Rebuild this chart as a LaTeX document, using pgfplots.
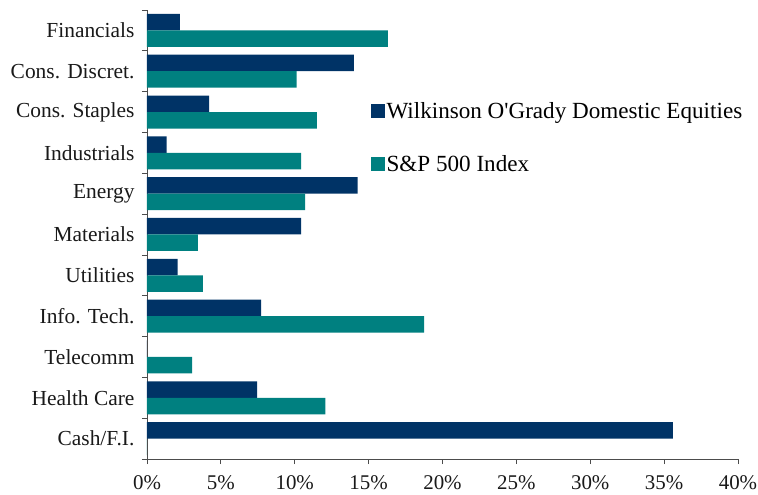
\documentclass[border=0pt]{standalone}
\usepackage{pgfplots}
\pgfplotsset{compat=1.18}
\usepackage{fontspec}
\setmainfont{Liberation Serif}
\definecolor{navyc}{RGB}{0,51,102}
\definecolor{tealc}{RGB}{0,128,128}
\begin{document}
\begin{tikzpicture}
\path[use as bounding box] (-147bp,-36bp) rectangle (611bp,459bp);
\begin{axis}[
  scale only axis, width=591bp, height=449bp,
  xmin=0, xmax=40, ymin=-0.5, ymax=10.5,
  axis lines=left,
  axis line style={-, black!70, line width=0.8bp},
  tick align=outside, major tick length=5bp,
  tick style={black!70, line width=0.8bp},
  xtick={0,5,...,40},
  xticklabel={\pgfmathprintnumber{\tick}\%},
  /pgf/number format/assume math mode=true,
  ytick={-0.5,0.5,...,10.5},
  yticklabels={},
  extra y ticks={0,1,...,10},
  extra y tick labels={Cash/F.I., Health Care, Telecomm, Info. Tech., Utilities, Materials, Energy, Industrials, Cons. Staples, Cons. Discret., Financials},
  extra y tick style={major tick length=0pt, tick style={draw=none}},
  yticklabel style={font=\fontsize{21.5}{24}\selectfont, text=black!90, xshift=-9bp},
  xticklabel style={font=\fontsize{21}{24}\selectfont, text=black!90, yshift=-8bp},
  legend style={at={(0.378,0.80)}, anchor=north west, draw=none, fill=none,
    font=\fontsize{23.2}{25}\selectfont, row sep=32bp, inner sep=0pt,
    /tikz/every even column/.append style={column sep=5bp}},
  legend cell align=left,
  legend image code/.code={\fill[#1] (0bp,-7bp) rectangle (14bp,7bp);},
]
\addplot[xbar, bar width=16.5bp, bar shift=8.25bp, fill=navyc, draw=none, forget plot]
  coordinates {(35.6,0) (7.45,1) (0,2) (7.72,3) (2.08,4) (10.43,5) (14.26,6) (1.33,7) (4.2,8) (14.0,9) (2.23,10)};
\addplot[xbar, bar width=16.5bp, bar shift=-8.25bp, fill=tealc, draw=none, forget plot]
  coordinates {(0,0) (12.07,1) (3.05,2) (18.75,3) (3.79,4) (3.45,5) (10.7,6) (10.43,7) (11.49,8) (10.13,9) (16.3,10)};
\addlegendimage{fill=navyc, draw=none}
\addlegendentry{Wilkinson O\textquotesingle Grady Domestic Equities}
\addlegendimage{fill=tealc, draw=none}
\addlegendentry{S\&P 500 Index}
\end{axis}
\end{tikzpicture}
\end{document}
